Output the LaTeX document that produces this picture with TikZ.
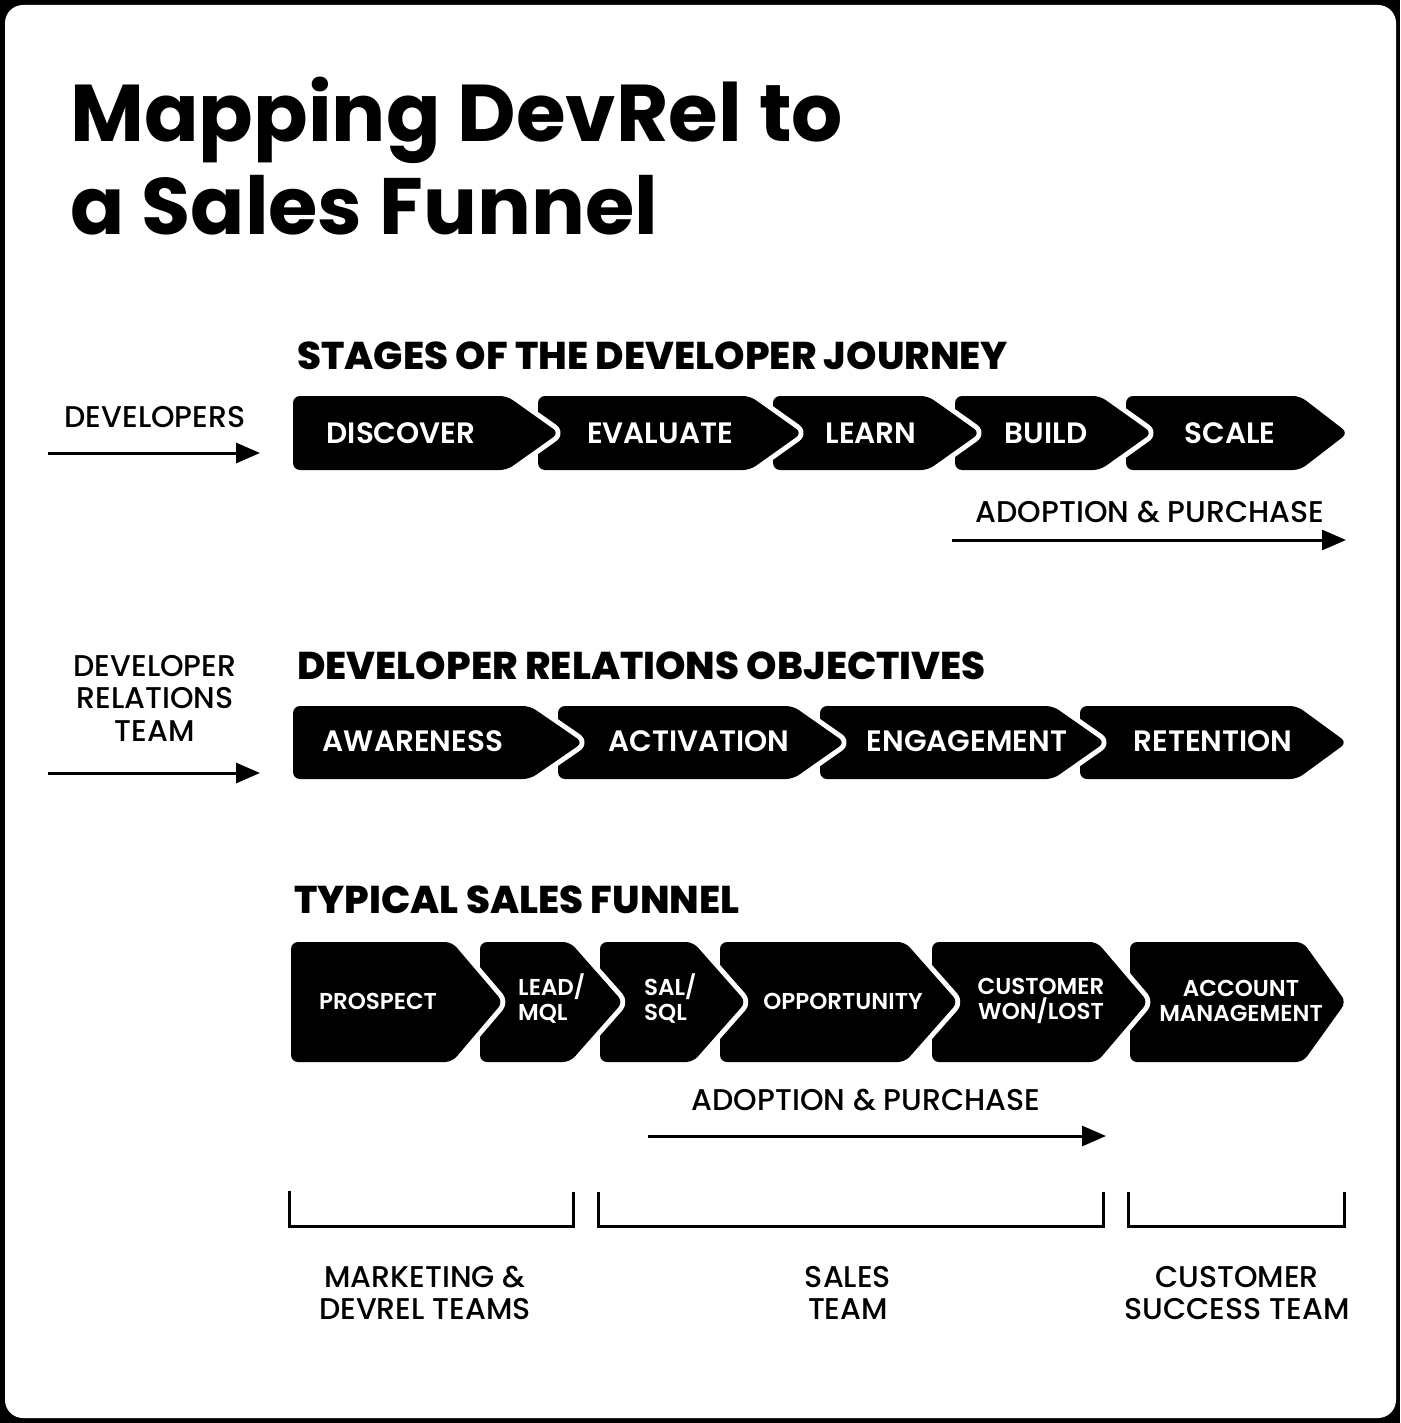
\documentclass[tikz,border=0pt]{standalone}
\usepackage{fontspec}
\setmainfont{Poppins}
\newfontfamily\ftitle{Poppins Bold}
\newfontfamily\fhead{Poppins ExtraBold}
\newfontfamily\fsemi{Poppins SemiBold}
\newfontfamily\fmed{Poppins Medium}
\usetikzlibrary{arrows.meta}
\newcommand\chev[5]{% left, body right, tip, top, bottom
  \fill[white, draw=white, line width=10pt, rounded corners=7pt, line join=round]
    (#1,#4) -- (#2,#4) -- (#3,{(#4+#5)/2}) -- (#2,#5) -- (#1,#5) -- cycle;
  \fill[black, rounded corners=7pt]
    (#1,#4) -- (#2,#4) -- (#3,{(#4+#5)/2}) -- (#2,#5) -- (#1,#5) -- cycle;}
\tikzset{
  boxlbl/.style={text=white, font=\fsemi\fontsize{29.5}{34}\selectfont, inner sep=0pt},
  smalllbl/.style={text=white, font=\fsemi\fontsize{23}{25}\selectfont, inner sep=0pt},
  headlbl/.style={anchor=base west, font=\fhead\fontsize{38.7}{44}\selectfont, inner sep=0pt},
  sidelbl/.style={align=center, font=\fmed\fontsize{30}{32.5}\selectfont, inner sep=0pt},
  flow/.style={line width=3pt, -{Triangle[length=24pt, width=20pt]}},
  bracket/.style={line width=3pt}
}
\begin{document}
\begin{tikzpicture}[x=1pt, y=-1pt]
\useasboundingbox (0,0) rectangle (1400,1423);
% frame
\fill[black] (0,0) rectangle (1400,1423);
\fill[white, rounded corners=18pt] (5,5) rectangle (1396,1418);

% title
\node[anchor=base west, inner sep=0pt, font=\ftitle\fontsize{80.5}{90}\selectfont] (t1) at (70,142) {Mapping DevRel to};
\node[anchor=base west, inner sep=0pt, font=\ftitle\fontsize{80}{90}\selectfont] (t2) at (70,235) {a Sales Funnel};

% section headers
\node[headlbl] (h1) at (297,369) {STAGES OF THE DEVELOPER JOURNEY};
\node[headlbl] (h2) at (297,679) {DEVELOPER RELATIONS OBJECTIVES};
\node[headlbl] (h3) at (294,913) {TYPICAL SALES FUNNEL};

% row 1
\chev{1126}{1300}{1348}{396}{470}
\chev{955}{1100}{1152}{396}{470}
\chev{773}{928}{980}{396}{470}
\chev{538}{750}{802}{396}{470}
\chev{293}{507}{559}{396}{470}
\node[boxlbl] (discover) at (401,433) {DISCOVER};
\node[boxlbl] (evaluate) at (660,433) {EVALUATE};
\node[boxlbl] (learn) at (871,433) {LEARN};
\node[boxlbl] (build) at (1046,433) {BUILD};
\node[boxlbl] (scale) at (1230,433) {SCALE};

% row 2
\chev{1080}{1297}{1347}{706}{779}
\chev{820}{1053}{1105}{706}{779}
\chev{558}{793}{845}{706}{779}
\chev{293}{530}{583}{706}{779}
\node[boxlbl] (awareness) at (413,741) {AWARENESS};
\node[boxlbl] (activation) at (699,741) {ACTIVATION};
\node[boxlbl] (engagement) at (967,741) {ENGAGEMENT};
\node[boxlbl] (retention) at (1213,741) {RETENTION};

% row 3
\chev{1130}{1303}{1346}{942}{1062}
\chev{932}{1097}{1148}{942}{1062}
\chev{720}{905}{958}{942}{1062}
\chev{600}{693}{746}{942}{1062}
\chev{480}{570}{623}{942}{1062}
\chev{291}{452}{503}{942}{1062}
\node[smalllbl] (prospect) at (378,1001) {PROSPECT};
\node[smalllbl, align=left, anchor=west] (lead) at (518,999) {LEAD/\\MQL};
\node[smalllbl, align=left, anchor=west] (sal) at (644,999) {SAL/\\SQL};
\node[smalllbl] (opp) at (843,1001) {OPPORTUNITY};
\node[smalllbl, align=center] (won) at (1041,1001) {CUSTOMER\\WON/LOST};
\node[smalllbl, align=center] (acct) at (1241,1001) {ACCOUNT\\MANAGEMENT};

% side labels and arrows
\node[sidelbl] (devs) at (155,417) {DEVELOPERS};
\coordinate (a1s) at (48,453);
\coordinate (a1e) at (260,453);
\draw[flow] (a1s) -- (a1e);

\node[sidelbl] (drteam) at (155,698) {DEVELOPER\\RELATIONS\\TEAM};
\coordinate (a2s) at (48,773);
\coordinate (a2e) at (260,773);
\draw[flow] (a2s) -- (a2e);

\node[sidelbl] (adopt1) at (1150,512) {ADOPTION \& PURCHASE};
\coordinate (a3s) at (952,540);
\coordinate (a3e) at (1346,540);
\draw[flow] (a3s) -- (a3e);

\node[sidelbl] (adopt2) at (866,1100) {ADOPTION \& PURCHASE};
\coordinate (a4s) at (648,1136);
\coordinate (a4e) at (1106,1136);
\draw[flow] (a4s) -- (a4e);

% brackets
\draw[bracket] (289,1191) -- (289,1226) -- (573,1226) -- (573,1192);
\draw[bracket] (598,1192) -- (598,1226) -- (1103,1226) -- (1103,1192);
\draw[bracket] (1128,1192) -- (1128,1226) -- (1344,1226) -- (1344,1192);

\node[sidelbl] (mkt) at (425,1293) {MARKETING \&\\DEVREL TEAMS};
\node[sidelbl] (sales) at (848,1293) {SALES\\TEAM};
\node[sidelbl] (cs) at (1237,1293) {CUSTOMER\\SUCCESS TEAM};
\end{tikzpicture}
\end{document}
